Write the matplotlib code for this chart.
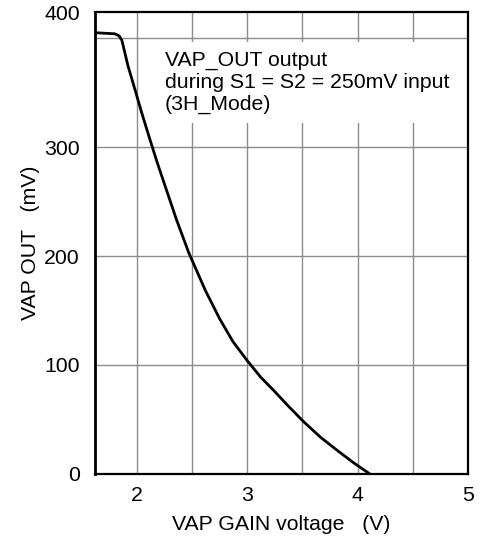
import matplotlib
matplotlib.use('Agg')
import matplotlib.pyplot as plt
from matplotlib.patches import Rectangle

plt.rcParams['font.family'] = ['Liberation Sans', 'DejaVu Sans']

# curve (V, mV)
gain_v = [1.62, 1.80, 1.84, 1.864, 1.918, 1.982, 2.045, 2.118, 2.19, 2.27, 2.36, 2.47,
          2.62, 2.752, 2.87, 2.995, 3.12, 3.236, 3.37, 3.51, 3.66, 3.81, 3.96, 4.11]
vap_out = [405, 404, 402, 398, 375, 353, 331, 307, 284, 260, 233, 203,
           168.5, 142, 121.5, 104.6, 89, 77, 62.5, 48, 34, 22, 10.5, 0]

x_ticks = [2, 3, 4, 5]
x_grid = [2, 2.5, 3, 3.5, 4, 4.5]
y_grid = [100, 200, 300, 400]
y_ticks = [0, 100, 200, 300, 424]
y_labels = ['0', '100', '200', '300', '400']
note = "VAP_OUT output\nduring S1 = S2 = 250mV input\n(3H_Mode)"
fs = 15.3

fig = plt.figure(figsize=(4.87, 5.46), dpi=100)
ax = fig.add_axes([0.195, 0.132, 0.766, 0.846])

for gx in x_grid:
    ax.axvline(gx, color='#8c8c8c', lw=1.0, zorder=1)
for gy in y_grid:
    ax.axhline(gy, color='#8c8c8c', lw=1.0, zorder=1)

# white patch behind the note hides the grid there
ax.add_patch(Rectangle((0.147, 0.76), 0.853, 0.175, transform=ax.transAxes,
                       facecolor='white', edgecolor='none', zorder=2))
ax.text(0.188, 0.915, note, transform=ax.transAxes, ha='left', va='top',
        fontsize=fs, linespacing=1.19, zorder=3)

ax.plot(gain_v, vap_out, color='black', lw=2, zorder=4,
        solid_joinstyle='round', solid_capstyle='round')

ax.set_xlim(1.62, 5.0)
ax.set_ylim(0, 424)
ax.set_xticks(x_ticks)
ax.set_yticks(y_ticks)
ax.set_yticklabels(y_labels)
ax.tick_params(length=0, labelsize=fs)
ax.tick_params(axis='x', pad=9)
ax.tick_params(axis='y', pad=10.8)
for s in ax.spines.values():
    s.set_linewidth(1.6)
    s.set_zorder(5)
ax.spines['left'].set_linewidth(2.0)

ax.set_xlabel("VAP GAIN voltage   (V)", fontsize=fs, labelpad=7)
ax.set_ylabel("VAP OUT   (mV)", fontsize=fs, labelpad=3)

fig.savefig('out.png', dpi=100)
